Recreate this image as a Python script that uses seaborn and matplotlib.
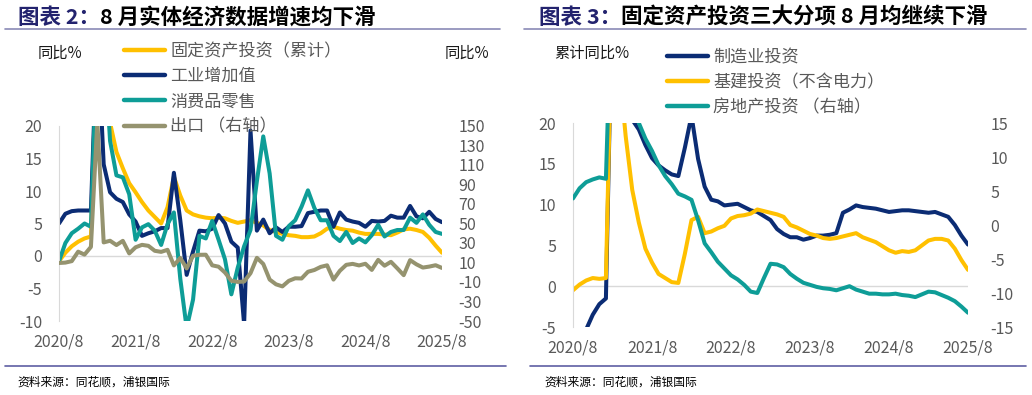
import numpy as np
import matplotlib
matplotlib.use("Agg")
import matplotlib.pyplot as plt
from matplotlib.lines import Line2D
import seaborn as sns

# months since 2020/8 (monthly, 2020/8 - 2025/8)
months = np.arange(61)
tick_pos = [0, 12, 24, 36, 48, 60]
tick_labels = ['2020/8', '2021/8', '2022/8', '2023/8', '2024/8', '2025/8']

# ---- chart 2: real economy, yoy %
fai_cum = [-0.8, 0.5, 1.5, 2.2, 2.7, 3.0, 35.0, 25.6, 20.5, 16.0, 13.5, 11.2, 9.8, 8.3, 7.0, 6.0,
           5.0, 7.5, 12.2, 9.3, 7.0, 6.4, 6.1, 5.9, 5.8, 5.9, 5.8, 5.4, 5.1, 5.3, 5.5, 5.1,
           4.7, 4.0, 3.7, 3.4, 3.2, 3.1, 2.9, 2.9, 3.0, 3.5, 4.2, 4.5, 4.2, 4.0, 3.9, 3.6,
           3.4, 3.4, 3.4, 3.3, 3.2, 3.6, 4.1, 4.2, 4.0, 3.7, 2.8, 1.6, 0.5]
ind_va = [5.0, 6.5, 6.9, 7.0, 7.0, 7.0, 35.1, 14.1, 9.8, 8.8, 8.3, 6.4, 5.3, 3.1, 3.5, 3.8,
          4.3, 4.3, 12.8, 5.5, -2.9, 0.7, 3.9, 3.8, 4.2, 6.3, 5.0, 2.2, 1.3, -10.5, 19.3, 3.9,
          5.6, 3.5, 4.4, 3.7, 4.5, 4.5, 4.6, 6.6, 6.8, 7.0, 7.0, 4.5, 6.7, 5.6, 5.3, 5.1,
          4.5, 5.4, 5.3, 5.4, 6.2, 5.9, 5.9, 7.7, 6.1, 5.8, 6.8, 5.7, 5.2]
retail = [-0.8, 2.0, 3.5, 4.2, 5.0, 4.5, 33.8, 34.2, 17.7, 12.4, 12.1, 9.5, 2.5, 4.4, 4.9, 3.9,
          1.7, 4.9, 6.7, -3.5, -11.1, -6.7, 3.1, 2.7, 5.4, 2.5, -0.5, -5.9, -1.8, 1.5, 4.0, 11.5,
          18.4, 12.7, 3.1, 2.5, 4.6, 5.5, 7.6, 10.1, 7.4, 5.5, 5.5, 3.1, 2.3, 3.7, 2.0, 2.7,
          2.1, 3.2, 4.8, 3.0, 3.7, 4.0, 4.0, 5.9, 5.1, 6.4, 4.8, 3.7, 3.4]
exports = [9.5, 9.9, 11.4, 21.1, 18.1, 26.0, 154.9, 30.6, 32.3, 27.9, 32.2, 19.3, 25.6, 28.1, 27.1, 22.0,
           20.9, 23.0, 7.0, 14.7, 3.9, 16.9, 17.9, 18.0, 7.1, 5.7, -0.3, -8.7, -9.9, -9.5, -1.0, 14.8,
           8.5, -7.5, -12.4, -14.5, -8.8, -6.2, -6.4, 0.5, 2.3, 5.5, 7.1, -7.5, 1.5, 7.6, 8.6, 7.0,
           8.7, 2.4, 12.7, 6.7, 10.7, 4.0, -3.0, 12.4, 8.1, 4.8, 5.8, 7.2, 4.4]

# ---- chart 3: FAI components, cumulative yoy %
mfg_inv = [-8.1, -6.5, -5.3, -3.5, -2.2, -1.5, 37.3, 29.8, 23.8, 20.4, 19.2, 17.3, 15.7, 14.8, 14.2, 13.7,
           13.5, 17.0, 20.9, 15.6, 12.2, 10.6, 10.4, 9.9, 10.0, 10.1, 9.7, 9.3, 9.1, 8.6, 8.1, 7.0,
           6.4, 6.0, 6.0, 5.7, 5.9, 6.2, 6.2, 6.3, 6.5, 9.0, 9.4, 9.9, 9.7, 9.6, 9.5, 9.3,
           9.1, 9.2, 9.3, 9.3, 9.2, 9.1, 9.0, 9.1, 8.8, 8.5, 7.5, 6.2, 5.1]
infra_inv = [-0.5, 0.2, 0.7, 1.0, 0.9, 1.0, 36.6, 26.9, 18.4, 11.8, 7.8, 4.6, 2.9, 1.5, 1.0, 0.5,
             0.4, 4.0, 8.1, 8.5, 6.5, 6.7, 7.1, 7.4, 8.3, 8.6, 8.7, 8.9, 9.4, 9.2, 9.0, 8.8,
             8.5, 7.5, 7.2, 6.8, 6.4, 6.2, 5.9, 5.8, 5.9, 6.1, 6.3, 6.5, 6.0, 5.7, 5.4, 4.9,
             4.4, 4.1, 4.3, 4.2, 4.4, 5.0, 5.6, 5.8, 5.8, 5.6, 4.6, 3.2, 2.0]
re_inv = [3.9, 5.4, 6.3, 6.7, 7.0, 6.8, 38.3, 25.6, 21.6, 18.3, 15.0, 12.7, 10.9, 8.8, 7.2, 6.0,
          4.6, 4.2, 3.7, 0.7, -2.7, -4.0, -5.4, -6.4, -7.4, -8.0, -8.8, -9.8, -10.0, -7.8, -5.7, -5.8,
          -6.2, -7.2, -7.9, -8.5, -8.8, -9.1, -9.3, -9.4, -9.6, -9.3, -9.0, -9.5, -9.8, -10.1, -10.1, -10.2,
          -10.2, -10.1, -10.3, -10.4, -10.6, -10.2, -9.8, -9.9, -10.3, -10.7, -11.2, -12.0, -12.9]

NAVY = '#0B2C74'
YELLOW = '#FFC000'
TEAL = '#0E9D97'
KHAKI = '#95936F'
GRAY = '#595959'
LIGHT = '#D9D9D9'
TITLE_BLUE = '#23236E'
LW = 2.9

sns.set_style('white')
plt.rcParams['font.family'] = ['Noto Sans CJK SC', 'DejaVu Sans']
plt.rcParams['axes.unicode_minus'] = False

W, H = 1032, 395
fig = plt.figure(figsize=(W / 100, H / 100), dpi=100)


def fx(px):
    return px / W


def fy(py):
    return 1 - py / H


def style(ax, ax2, lpad, rpad):
    for a in (ax, ax2):
        for s in a.spines.values():
            s.set_visible(False)
        a.tick_params(length=0, labelsize=11.5, labelcolor=GRAY)
        a.grid(False)
        a.set_xlabel('')
        a.set_ylabel('')
    ax.spines['left'].set_visible(True)
    ax.spines['left'].set_color(LIGHT)
    ax.axhline(0, color=LIGHT, lw=1, zorder=0)
    ax.tick_params(axis='y', pad=lpad)
    ax.tick_params(axis='x', pad=9)
    ax2.tick_params(axis='y', pad=rpad)
    ax.set_xlim(0, 60)
    ax.set_xticks(tick_pos)
    ax.set_xticklabels(tick_labels)


# ---------------- left: chart 2
ax1 = fig.add_axes([fx(59), fy(321), fx(442) - fx(59), fy(126) - fy(321)])
ax1r = ax1.twinx()
sns.lineplot(x=months, y=fai_cum, ax=ax1, color=YELLOW, lw=LW, legend=False)
sns.lineplot(x=months, y=ind_va, ax=ax1, color=NAVY, lw=LW, legend=False)
sns.lineplot(x=months, y=retail, ax=ax1, color=TEAL, lw=LW, legend=False)
sns.lineplot(x=months, y=exports, ax=ax1r, color=KHAKI, lw=LW, legend=False)
ax1.set_ylim(-10, 20)
ax1.set_yticks(range(-10, 21, 5))
ax1r.set_ylim(-50, 150)
ax1r.set_yticks(range(-50, 151, 20))
style(ax1, ax1r, 12, 12)

# ---------------- right: chart 3
ax2 = fig.add_axes([fx(573), fy(327), fx(968) - fx(573), fy(123) - fy(327)])
ax2r = ax2.twinx()
sns.lineplot(x=months, y=mfg_inv, ax=ax2, color=NAVY, lw=LW, legend=False)
sns.lineplot(x=months, y=infra_inv, ax=ax2, color=YELLOW, lw=LW, legend=False)
sns.lineplot(x=months, y=re_inv, ax=ax2r, color=TEAL, lw=LW, legend=False)
ax2.set_ylim(-5, 20)
ax2.set_yticks(range(-5, 21, 5))
ax2r.set_ylim(-15, 15)
ax2r.set_yticks(range(-15, 16, 5))
style(ax2, ax2r, 12, 16)

# ---------------- legends
leg_kw = dict(loc='upper left', frameon=False, fontsize=12.3, handlelength=2.4,
              handletextpad=0.3, labelspacing=0.42, borderpad=0, borderaxespad=0,
              labelcolor=GRAY, bbox_transform=fig.transFigure)
h1 = [Line2D([], [], color=c, lw=3.2) for c in (YELLOW, NAVY, TEAL, KHAKI)]
fig.legend(h1, ['固定资产投资（累计）', '工业增加值', '消费品零售', '出口 （右轴）'],
           bbox_to_anchor=(fx(124), fy(42)), **leg_kw)
h2 = [Line2D([], [], color=c, lw=3.2) for c in (NAVY, YELLOW, TEAL)]
fig.legend(h2, ['制造业投资', '基建投资（不含电力）', '房地产投资 （右轴）'],
           bbox_to_anchor=(fx(667), fy(48)), **leg_kw)

# unit labels
fig.text(fx(60), fy(53), '同比%', ha='center', va='center', fontsize=11, color='#1A1A1A')
fig.text(fx(467), fy(53), '同比%', ha='center', va='center', fontsize=11, color='#1A1A1A')
fig.text(fx(592), fy(53), '累计同比%', ha='center', va='center', fontsize=11, color='#1A1A1A')

# ---------------- titles, rules, source
renderer = fig.canvas.get_renderer()
for x0, num, rest in [(18, '图表 2：', '8 月实体经济数据增速均下滑'),
                      (539, '图表 3：', '固定资产投资三大分项 8 月均继续下滑')]:
    t = fig.text(fx(x0), fy(17), num, color=TITLE_BLUE, fontsize=15.5, fontweight='bold', va='center')
    bb = t.get_window_extent(renderer=renderer)
    fig.text(bb.x1 / W, fy(17), rest, color='black', fontsize=15.5, fontweight='bold', va='center')

for xa, xb in [(5, 500), (524, 1026)]:
    fig.add_artist(Line2D([fx(xa), fx(xb)], [fy(29), fy(29)], color='#8A8AB6', lw=1.2,
                          transform=fig.transFigure))
for xa, xb in [(5, 506), (530, 1026)]:
    fig.add_artist(Line2D([fx(xa), fx(xb)], [fy(366), fy(366)], color='#5F5FA3', lw=1.2,
                          transform=fig.transFigure))
for x0 in (17, 544):
    fig.text(fx(x0), fy(382), '资料来源：同花顺，浦银国际', fontsize=8.5, color='black', va='center')

fig.savefig('out.png', dpi=100)
